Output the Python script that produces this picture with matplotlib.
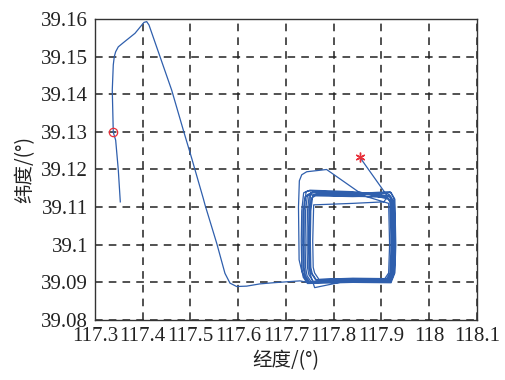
import matplotlib
matplotlib.use("Agg")
import matplotlib.pyplot as plt
import numpy as np

plt.rcParams['font.family'] = ['Liberation Serif', 'Noto Sans CJK SC', 'DejaVu Sans']

# approach: tail, climb, long descent and run east to the loop area
lon_in = [117.353, 117.3488, 117.3433, 117.3383, 117.3362, 117.3383, 117.3404, 117.3433,
          117.3488, 117.3593, 117.3838, 117.4026, 117.4083, 117.4131, 117.4606, 117.4849,
          117.5025, 117.5268, 117.5304, 117.5549, 117.5722, 117.5827, 117.5967, 117.6177,
          117.6455, 117.6734, 117.7293, 117.7450]
lat_in = [39.1114, 39.1199, 39.1278, 39.1299, 39.1411, 39.1478, 39.1500, 39.1513,
          39.1526, 39.1537, 39.1562, 39.1591, 39.1593, 39.1584, 39.1411, 39.1305,
          39.1230, 39.1123, 39.1106, 39.1004, 39.0924, 39.0898, 39.0889, 39.0890,
          39.0896, 39.0899, 39.0904, 39.0900]

# first wide loop
lon_outer = [117.7340, 117.7275, 117.7262, 117.7280, 117.7330, 117.7434, 117.7850, 117.8514, 117.9150]
lat_outer = [39.0925, 39.0960, 39.1100, 39.1170, 39.1186, 39.1194, 39.1200, 39.1141, 39.1121]

# laps round the block (clockwise), typed per lap
lon_loops = [
    117.922, 117.924, 117.922, 117.914, 117.840, 117.757, 117.748, 117.745, 117.744, 117.745, 117.749, 117.757, 117.840,
    117.918, 117.926, 117.928, 117.926, 117.918, 117.840, 117.750, 117.741, 117.738, 117.737, 117.738, 117.742, 117.750, 117.840,
    117.910, 117.918, 117.920, 117.918, 117.910, 117.840, 117.764, 117.755, 117.752, 117.751, 117.752, 117.756, 117.764, 117.840,
    117.920, 117.928, 117.930, 117.928, 117.920, 117.840, 117.745, 117.736, 117.733, 117.732, 117.733, 117.737, 117.745, 117.840,
    117.915, 117.917, 117.915, 117.907, 117.840, 117.769, 117.760, 117.757, 117.756, 117.758, 117.840, 117.905,
    117.916, 117.924, 117.926, 117.924, 117.916, 117.840, 117.753, 117.744, 117.741, 117.740, 117.741, 117.745, 117.753, 117.840,
    117.912, 117.920, 117.922, 117.920, 117.912, 117.840, 117.760, 117.751, 117.748, 117.747, 117.748, 117.752, 117.760, 117.840,
    117.919, 117.927, 117.929, 117.927, 117.919, 117.840, 117.748, 117.739, 117.736, 117.735, 117.736, 117.740, 117.748, 117.840,
    117.913, 117.921, 117.923, 117.921, 117.913, 117.840, 117.762, 117.753, 117.750, 117.749, 117.750, 117.754, 117.762, 117.840,
    117.912,
]
lat_loops = [
    39.1118, 39.1000, 39.0925, 39.0905, 39.0906, 39.0903, 39.0920, 39.0940, 39.1010, 39.1090, 39.1135, 39.1140, 39.1136,
    39.1141, 39.1123, 39.1000, 39.0925, 39.0902, 39.0903, 39.0900, 39.0917, 39.0940, 39.1010, 39.1090, 39.1140, 39.1145, 39.1141,
    39.1131, 39.1113, 39.1000, 39.0925, 39.0908, 39.0909, 39.0906, 39.0923, 39.0940, 39.1010, 39.1090, 39.1130, 39.1135, 39.1131,
    39.1139, 39.1121, 39.1000, 39.0925, 39.0899, 39.0900, 39.0897, 39.0914, 39.0940, 39.1010, 39.1090, 39.1138, 39.1143, 39.1139,
    39.1110, 39.1000, 39.0925, 39.0910, 39.0911, 39.0908, 39.0925, 39.0940, 39.1010, 39.1106, 39.1110, 39.1114,
    39.1134, 39.1116, 39.1000, 39.0925, 39.0903, 39.0904, 39.0901, 39.0918, 39.0940, 39.1010, 39.1090, 39.1133, 39.1138, 39.1134,
    39.1138, 39.1120, 39.1000, 39.0925, 39.0906, 39.0907, 39.0886, 39.0921, 39.0940, 39.1010, 39.1090, 39.1137, 39.1142, 39.1138,
    39.1129, 39.1111, 39.1000, 39.0925, 39.0901, 39.0902, 39.0899, 39.0916, 39.0940, 39.1010, 39.1090, 39.1128, 39.1133, 39.1129,
    39.1126, 39.1108, 39.1000, 39.0925, 39.0909, 39.0910, 39.0907, 39.0924, 39.0940, 39.1010, 39.1090, 39.1125, 39.1130, 39.1128,
    39.1130,
]

# last leg out to the end marker
lon_out = [117.8550]
lat_out = [39.1232]

start_lon, start_lat = 117.3383, 39.1299
end_lon, end_lat = 117.8550, 39.1232

xticks = [117.3, 117.4, 117.5, 117.6, 117.7, 117.8, 117.9, 118.0, 118.1]
xtick_labels = ['117.3', '117.4', '117.5', '117.6', '117.7', '117.8', '117.9', '118', '118.1']
yticks = [39.08, 39.09, 39.10, 39.11, 39.12, 39.13, 39.14, 39.15, 39.16]
ytick_labels = ['39.08', '39.09', '39.1', '39.11', '39.12', '39.13', '39.14', '39.15', '39.16']

lon = np.concatenate([lon_in, lon_outer, lon_loops, lon_out])
lat = np.concatenate([lat_in, lat_outer, lat_loops, lat_out])

fig = plt.figure(figsize=(5.05, 3.8), dpi=100)
ax = fig.add_axes([0.1881, 0.1579, 0.7564, 0.7921])

ax.plot(lon, lat, color='#2f5fad', lw=0.9)
ax.plot(start_lon, start_lat, 'o', mfc='none', mec='#e8303a', ms=6, mew=0.9)
ax.plot(end_lon, end_lat, marker=(6, 2, 0), color='#e8303a', ms=7, mew=1.0)

ax.set_xlim(117.3, 118.1)
ax.set_ylim(39.08, 39.16)
ax.set_xticks(xticks)
ax.set_xticklabels(xtick_labels)
ax.set_yticks(yticks)
ax.set_yticklabels(ytick_labels)
ax.tick_params(length=0, labelsize=15, colors='#222222', pad=5)
ax.grid(True, color='#222222', ls=(0, (5, 4)), lw=1.1)
for s in ax.spines.values():
    s.set_color('#333333')
    s.set_linewidth(1.0)

ax.set_xlabel('经度/(°)', fontsize=14, family=['Noto Sans CJK SC', 'DejaVu Sans'], color='#222222', labelpad=3)
ax.set_ylabel('纬度/(°)', fontsize=14, family=['Noto Sans CJK SC', 'DejaVu Sans'], color='#222222', labelpad=4)

fig.savefig('out.png', dpi=100)
